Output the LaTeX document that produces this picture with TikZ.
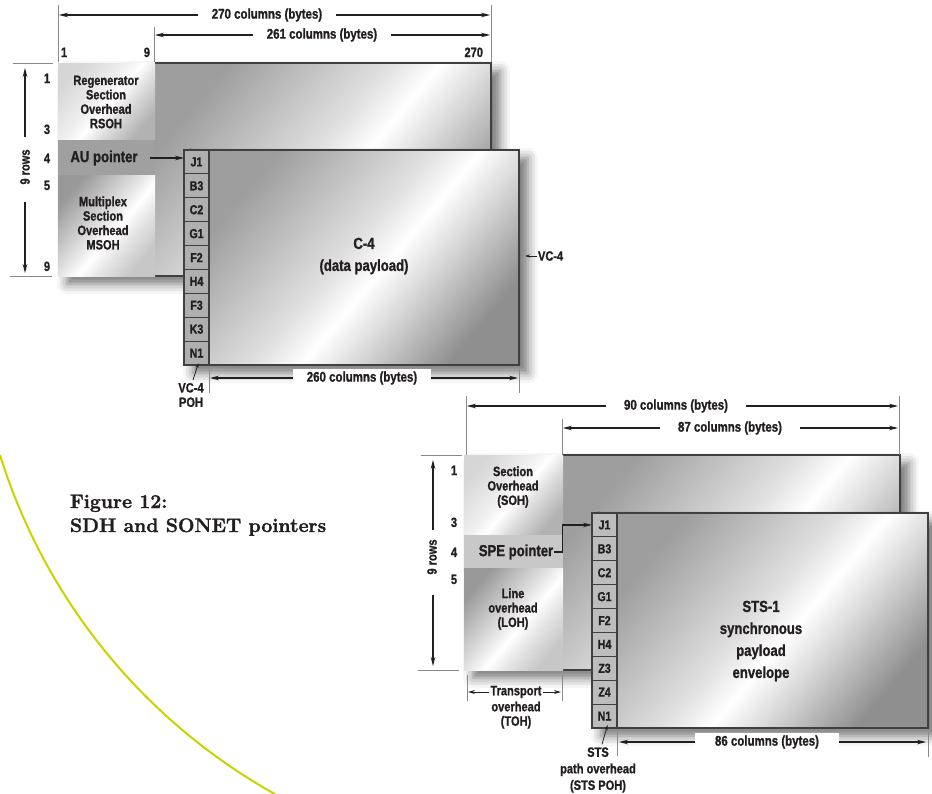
\documentclass[tikz,border=0pt]{standalone}
\usepackage{fontspec}
\newfontfamily\labf[FakeStretch=0.82,BoldFeatures={FakeBold=1.1}]{Liberation Sans}
\newfontfamily\capf[BoldFeatures={FakeBold=1.6}]{Latin Modern Roman}
\usetikzlibrary{arrows.meta,shadows.blur,fit,calc}
\definecolor{ink}{HTML}{231F20}
\definecolor{tickgray}{HTML}{8A8A8A}
\definecolor{framegray}{HTML}{404040}
\definecolor{cellgray}{HTML}{AFAFAF}
\definecolor{cellgrayB}{HTML}{BDBDBD}
\definecolor{aubgray}{HTML}{A0A0A0}
\definecolor{spegray}{HTML}{C8C8C8}
\definecolor{olivey}{HTML}{C8D400}
\pgfdeclarehorizontalshading{metalA}{100bp}{color(0bp)=(black!38); color(25bp)=(black!38); color(47bp)=(black!12); color(54bp)=(white); color(61bp)=(black!14); color(75bp)=(black!44); color(100bp)=(black!44)}
\pgfdeclarehorizontalshading{metalB}{100bp}{color(0bp)=(black!16); color(25bp)=(black!16); color(45bp)=(black!6); color(52bp)=(white); color(60bp)=(black!12); color(75bp)=(black!30); color(100bp)=(black!30)}
\pgfdeclarehorizontalshading{metalC}{100bp}{color(0bp)=(black!40); color(25bp)=(black!40); color(48bp)=(black!10); color(55bp)=(white); color(63bp)=(black!10); color(75bp)=(black!22); color(100bp)=(black!22)}
\begin{document}
\begin{tikzpicture}[x=1pt,y=-1pt,
  every node/.style={inner sep=0pt, outer sep=0pt},
  lab/.style={font=\labf\bfseries\fontsize{13.5}{14.4}\selectfont, text=ink, align=center, inner sep=1pt},
  biglab/.style={font=\labf\bfseries\fontsize{16}{22}\selectfont, text=ink, align=center, inner sep=1pt},
  dimtxt/.style={font=\labf\bfseries\fontsize{14}{16}\selectfont, text=ink, fill=white, inner xsep=14pt, inner ysep=2pt},
  num/.style={font=\labf\bfseries\fontsize{13.5}{16}\selectfont, text=ink},
  tick/.style={draw=tickgray, line width=0.9pt},
  dimarr/.style={{Stealth[length=9pt,width=4.6pt]}-{Stealth[length=9pt,width=4.6pt]}, line width=1.1pt, draw=ink},
  ptr/.style={-{Stealth[length=9pt,width=4.6pt]}, line width=1.1pt, draw=ink},
  medptr/.style={-{Stealth[length=7pt,width=4pt]}, line width=1pt, draw=ink},
  tinyptr/.style={-{Stealth[length=5pt,width=3pt]}, line width=0.8pt, draw=ink},
  frame/.style={draw=framegray, line width=1.4pt},
  blk/.style={inner sep=0pt, outer sep=0pt},
  metal/.style={shade, shading=#1, shading angle=-40},
  shadowbox/.style={fill=white, blur shadow={shadow xshift=9pt, shadow yshift=-8pt, shadow blur radius=10pt, shadow opacity=55}},
  cellbox/.style={draw=framegray, line width=1.2pt, minimum width=25pt, anchor=north west, font=\labf\bfseries\fontsize{13}{14}\selectfont, text=ink},
  captxt/.style={anchor=base west, font=\capf\bfseries\fontsize{19.5}{24}\selectfont, text=ink}
]
\useasboundingbox (0,0) rectangle (932,793);
% yellow arc
\begin{scope}
\clip (0,0) rectangle (932,793);
\coordinate (arcc) at (561.9,280.4);
\draw[olivey, line width=2pt] ($(arcc)+(162.74:588.4)$) arc[start angle=162.74, end angle=110, radius=588.4];
\end{scope}

% ================= SDH =================
\node[shadowbox, blk, fit={(58,63)(491,276)}] (sdhbackframe) {};
\node[blk, metal=metalA, fit={(155,63)(491,276)}] (sdhback) {};
\draw[frame] (sdhback.north west) -- (sdhback.north east) -- (sdhback.south east) -- (sdhback.south west);
\node[blk, metal=metalB, fit={(58,63)(155,140)}] (rsoh) {};
\node[blk, fill=aubgray, fit={(58,140)(155,175)}] (aub) {};
\node[blk, metal=metalC, fit={(58,175)(155,276)}] (msoh) {};
\node[lab] (rsohtxt) at (106,102) {Regenerator\\Section\\Overhead\\RSOH};
\node[lab] (msohtxt) at (103,223) {Multiplex\\Section\\Overhead\\MSOH};
\node[lab, font=\labf\bfseries\fontsize{16}{18}\selectfont] (aup) at (104,158) {AU pointer};

\node[shadowbox, blk, fit={(184,150)(519,365)}] (sdhfront) {};
\node[blk, metal=metalA, draw=framegray, line width=1.4pt, fit={(209,150)(519,365)}] (sdhpay) {};
\foreach \t [count=\i] in {J1,B3,C2,G1,F2,H4,F3,K3,N1}
  \node[cellbox, fill=cellgray, minimum height=23.89pt] (sc\i) at (184,{150+23.89*(\i-1)}) {\t};
\node[biglab] (c4) at (364,256) {C-4\\(data payload)};

\draw[ptr] ([xshift=11pt]aup.east) -- (aup.east -| sc1.west);
\node[lab, anchor=west] (vc4) at (537,256) {VC-4};
\draw[tinyptr] (vc4.west) -- ([xshift=6pt]sdhpay.east |- vc4.west);
\node[lab] (vcpoh) at (191,395) {VC-4\\POH};
\draw[tinyptr] ($(vcpoh.north)+(2,-2)$) -- ($(sc9.south)+(2,-2)$);

% SDH dimensions
\draw[tick] (58,5) -- (58,62);
\draw[tick] (154,27) -- (154,62);
\draw[tick] (491,5) -- (491,62);
\coordinate (d270l) at (59,15); \coordinate (d270r) at (490,15);
\coordinate (d261l) at (155,35); \coordinate (d261r) at (490,35);
\draw[dimarr] (d270l) -- (d270r);
\draw[dimarr] (d261l) -- (d261r);
\node[dimtxt] (l270) at (267,15) {270 columns (bytes)};
\node[dimtxt] (l261) at (322,35) {261 columns (bytes)};
\node[num, anchor=base west] (c1) at (61,57) {1};
\node[num, anchor=base east] (c9) at (150,57) {9};
\node[num, anchor=base east] (c270) at (483,57) {270};
\draw[tick] (13,63) -- (53,63);
\draw[tick] (10,276) -- (52,276);
\node[num, anchor=base] (r1) at (47,83) {1};
\node[num, anchor=base] (r3) at (47,134) {3};
\node[num, anchor=base] (r4) at (47,163) {4};
\node[num, anchor=base] (r5) at (47,190) {5};
\node[num, anchor=base] (r9) at (47,271) {9};
\node[lab, rotate=90] (rows1) at (25,167) {9 rows};
\coordinate (u1a) at (25,137); \coordinate (u1b) at (25,68);
\coordinate (v1a) at (25,202); \coordinate (v1b) at (25,273);
\draw[ptr] (u1a) -- (u1b);
\draw[ptr] (v1a) -- (v1b);
\coordinate (d260l) at (210,378); \coordinate (d260r) at (518,378);
\draw[tick] (209,369) -- (209,393);
\draw[tick] (519,369) -- (519,393);
\draw[dimarr] (d260l) -- (d260r);
\node[dimtxt] (l260) at (362,378) {260 columns (bytes)};

% ================= SONET =================
\node[shadowbox, blk, fit={(464,455)(900,670)}] (sonbackframe) {};
\node[blk, metal=metalA, fit={(563,455)(900,670)}] (sonback) {};
\draw[frame] (sonback.north west) -- (sonback.north east) -- (sonback.south east) -- (sonback.south west);
\node[blk, metal=metalB, fit={(464,455)(563,535)}] (soh) {};
\node[blk, fill=spegray, fit={(464,535)(563,568)}] (speb) {};
\node[blk, metal=metalC, fit={(464,568)(563,670)}] (loh) {};
\node[lab] (sohtxt) at (513,487) {Section\\Overhead\\(SOH)};
\node[lab] (lohtxt) at (513,609) {Line\\overhead\\(LOH)};
\node[lab, font=\labf\bfseries\fontsize{16}{18}\selectfont] (spe) at (516,552) {SPE pointer};

\node[shadowbox, blk, fit={(592,513)(928,728)}] (sonfront) {};
\node[blk, metal=metalA, draw=framegray, line width=1.4pt, fit={(617,513)(928,728)}] (sonpay) {};
\foreach \t [count=\i] in {J1,B3,C2,G1,F2,H4,Z3,Z4,N1}
  \node[cellbox, fill=cellgrayB, minimum height=23.89pt] (tc\i) at (592,{513+23.89*(\i-1)}) {\t};
\node[biglab] (sts1) at (761,641) {STS-1\\synchronous\\payload\\envelope};

\draw[ptr] (spe.east) -- ++(8,0) |- (tc1.west);

% SONET dimensions
\draw[tick] (466,396) -- (466,455);
\draw[tick] (562,419) -- (562,455);
\draw[tick] (899,396) -- (899,455);
\coordinate (d90l) at (467,406); \coordinate (d90r) at (898,406);
\coordinate (d87l) at (563,428); \coordinate (d87r) at (898,428);
\draw[dimarr] (d90l) -- (d90r);
\draw[dimarr] (d87l) -- (d87r);
\node[dimtxt, inner xsep=18pt] (l90) at (676,406) {90 columns (bytes)};
\node[dimtxt, inner xsep=18pt] (l87) at (730,428) {87 columns (bytes)};
\draw[tick] (421,455) -- (462,455);
\draw[tick] (418,670) -- (459,670);
\node[num, anchor=base] (s1) at (454,475) {1};
\node[num, anchor=base] (s3) at (454,527) {3};
\node[num, anchor=base] (s4) at (454,557) {4};
\node[num, anchor=base] (s5) at (454,584) {5};
\node[lab, rotate=90] (rows2) at (432,557) {9 rows};
\coordinate (u2a) at (433,530); \coordinate (u2b) at (433,460);
\coordinate (v2a) at (433,595); \coordinate (v2b) at (433,666);
\draw[ptr] (u2a) -- (u2b);
\draw[ptr] (v2a) -- (v2b);

\draw[tick] (467,675) -- (467,701);
\draw[tick] (562,675) -- (562,701);
\node[lab] (transp) at (516,692) {Transport};
\coordinate (toha) at (468,692); \coordinate (tohb) at (561,692);
\draw[medptr] (transp.west) -- (toha);
\draw[medptr] (transp.east) -- (tohb);
\node[lab] (tohtxt) at (516,715) {overhead\\(TOH)};

\draw[tick] (617,732) -- (617,756);
\draw[tick] (928,732) -- (928,757);
\coordinate (d86l) at (619,742); \coordinate (d86r) at (926,742);
\draw[dimarr] (d86l) -- (d86r);
\node[dimtxt, inner xsep=20pt] (l86) at (767,742) {86 columns (bytes)};
\node[lab, font=\labf\bfseries\fontsize{13.5}{16.5}\selectfont] (stspoh) at (598,770) {STS\\path overhead\\(STS POH)};
\draw[tinyptr] ($(stspoh.north)+(4,-2)$) -- ($(tc9.south)+(3,-3)$);

% caption
\node[captxt] (cap1) at (70,508) {Figure 12:};
\node[captxt] (cap2) at (70,532) {SDH and SONET pointers};
\end{tikzpicture}
\end{document}
